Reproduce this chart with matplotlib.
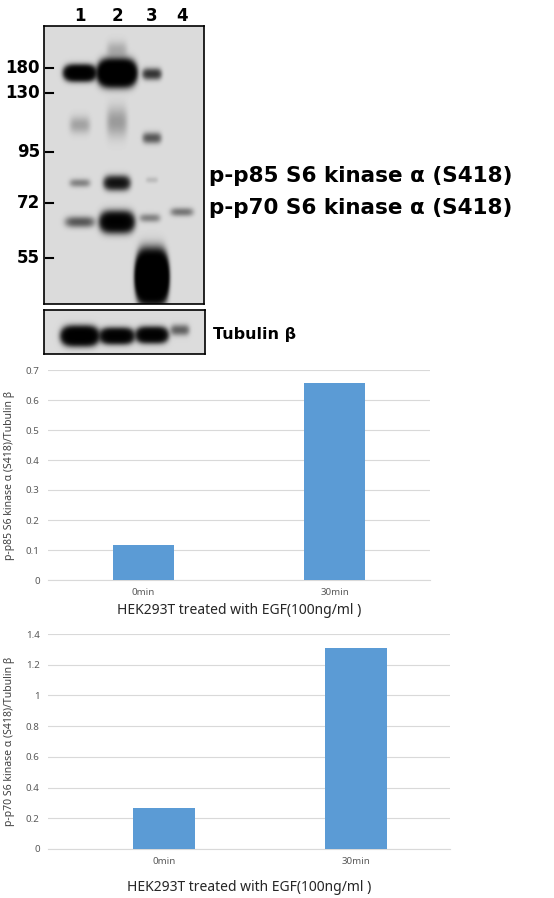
import numpy as np
import matplotlib
matplotlib.use("Agg")
import matplotlib.pyplot as plt

plt.rcParams['font.family'] = ['Noto Sans', 'DejaVu Sans']

# blot data (figure pixel coords): lane x, band y, half-width, half-height, strength
lane_x = [80, 117, 152, 182]
bands = [
    (80, 73, 14, 6, 6.0), (117, 73, 16, 9, 12.0), (152, 74, 9, 5, 1.4),
    (117, 50, 10, 8, 0.25), (80, 125, 10, 8, 0.3), (117, 122, 10, 14, 0.35),
    (152, 138, 9, 5, 0.9), (80, 183, 10, 4, 0.5), (117, 183, 12, 6, 2.5),
    (152, 180, 6, 3, 0.15), (80, 222, 14, 5, 0.9), (117, 222, 15, 8, 5.0),
    (150, 218, 10, 4, 0.5), (182, 212, 11, 4, 0.6), (152, 277, 13, 16, 25.0),
]
tub_bands = [(80, 336, 16, 7, 7.0), (117, 336, 15, 6, 5.0),
             (152, 335, 14, 6, 5.0), (180, 330, 9, 5, 0.8)]
markers = ['180', '130', '95', '72', '55']
marker_y = [68, 93, 152, 203, 258]

# quantification
groups = ['0min', '30min']
p85 = [0.117, 0.658]
p70 = [0.27, 1.31]

W, H = 554, 898
fig = plt.figure(figsize=(W / 100, H / 100), dpi=100)

def blot(x0, x1, y0, y1, blist):
    ax = fig.add_axes([x0 / W, 1 - y1 / H, (x1 - x0) / W, (y1 - y0) / H])
    xs = np.arange(x0, x1) + 0.5
    ys = np.arange(y0, y1) + 0.5
    X, Y = np.meshgrid(xs, ys)
    dens = np.zeros_like(X)
    for bx, by, hw, hh, s in blist:
        dens += s * np.exp(-(((X - bx) / hw) ** 4 + ((Y - by) / hh) ** 2))
    img = 0.86 * np.exp(-dens)
    ax.imshow(img, cmap='gray', vmin=0, vmax=1, extent=[x0, x1, y1, y0], aspect='auto')
    ax.set_xticks([]); ax.set_yticks([])
    for s in ax.spines.values():
        s.set_linewidth(1.2)
    return ax

blot(44, 204, 26, 304, bands)
blot(44, 205, 310, 354, tub_bands)

bold = dict(fontweight='bold', family='DejaVu Sans')
ov = fig.add_axes([0, 0, 1, 1])
ov.set_xlim(0, W); ov.set_ylim(H, 0); ov.axis('off')
for i, x in enumerate(lane_x):
    ov.text(x, 16, str(i + 1), ha='center', va='center', fontsize=12, **bold)
for m, y in zip(markers, marker_y):
    ov.text(40, y, m, ha='right', va='center', fontsize=12, **bold)
    ov.plot([46, 53], [y, y], color='black', lw=1.5)
ov.text(209, 176, 'p-p85 S6 kinase α (S418)', ha='left', va='center', fontsize=15.5, **bold)
ov.text(209, 208, 'p-p70 S6 kinase α (S418)', ha='left', va='center', fontsize=15.5, **bold)
ov.text(213, 334, 'Tubulin β', ha='left', va='center', fontsize=11.5, **bold)

def bars(ax, vals, ymax, step, ylabel, xlim, pad):
    x = np.arange(len(groups))
    ax.bar(x, vals, width=0.32, color='#5b9bd5', zorder=3)
    ax.set_xlim(*xlim)
    ax.set_ylim(0, ymax)
    ticks = np.arange(0, ymax + 1e-9, step)
    ax.set_yticks(ticks)
    ax.set_yticklabels(['%g' % round(t, 1) for t in ticks])
    ax.set_xticks(x)
    ax.set_xticklabels(groups)
    ax.yaxis.grid(True, color='#d9d9d9', lw=0.8, zorder=0)
    for s in ['top', 'right', 'left']:
        ax.spines[s].set_visible(False)
    ax.spines['bottom'].set_color('#d9d9d9')
    ax.tick_params(length=0, labelsize=7, colors='#595959', pad=6)
    ax.set_ylabel(ylabel, fontsize=7.5, color='#404040', labelpad=8)
    ax.set_xlabel('HEK293T treated with EGF(100ng/ml )', fontsize=10, color='#262626', labelpad=pad)

ax1 = fig.add_axes([48 / W, 1 - 580 / H, (430 - 48) / W, (580 - 370) / H])
bars(ax1, p85, 0.7, 0.1, 'p-p85 S6 kinase α (S418)/Tubulin β', (-0.5, 1.5), 4)
ax2 = fig.add_axes([48 / W, 1 - 849 / H, (450 - 48) / W, (849 - 634) / H])
bars(ax2, p70, 1.4, 0.2, 'p-p70 S6 kinase α (S418)/Tubulin β', (-0.604, 1.49), 10)

fig.savefig('out.png', dpi=100)
